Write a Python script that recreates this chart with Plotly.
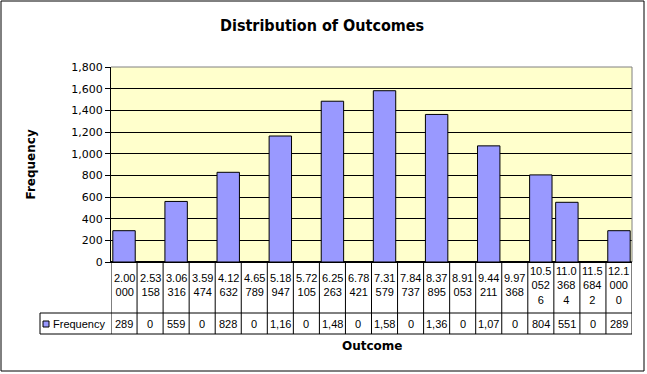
import plotly.graph_objects as go

# ---- data ----
categories = ["2.00000", "2.53158", "3.06316", "3.59474", "4.12632", "4.65789",
              "5.18947", "5.72105", "6.25263", "6.78421", "7.31579", "7.84737",
              "8.37895", "8.91053", "9.44211", "9.97368", "10.50526", "11.03684",
              "11.56842", "12.10000"]
frequency = [289, 0, 559, 0, 828, 0, 1163, 0, 1484, 0, 1581, 0, 1362, 0, 1072, 0,
             804, 551, 0, 289]
y_ticks = [0, 200, 400, 600, 800, 1000, 1200, 1400, 1600, 1800]

title_text = "Distribution of Outcomes"
x_title = "Outcome"
y_title = "Frequency"
series_name = "Frequency"

# ---- layout geometry (pixels) ----
W, H = 647, 374
L, R, T, B = 111, 632, 67, 262   # plot area edges in px
PW, PH = R - L, B - T
ROW1_BOTTOM = 313   # bottom of category row
ROW2_BOTTOM = 334   # bottom of frequency row
LEG_LEFT = 40


def px_x(px):
    return (px - L) / PW


def px_y(py):
    return (B - py) / PH


def wrap_label(s):
    parts = [s[:4]]
    rest = s[4:]
    while rest:
        parts.append(rest[:3])
        rest = rest[3:]
    return "<br>".join(parts)


def cell_value(v):
    s = f"{v:,}"
    return s[:4]


TABLE_FONT = dict(family="Liberation Sans, Arial, sans-serif", size=11, color="black")
AXIS_FONT = dict(family="DejaVu Sans, Verdana, sans-serif", size=11, color="black")
BOLD_FONT = dict(family="DejaVu Sans, Verdana, sans-serif", size=12, color="black")

fig = go.Figure()
fig.add_trace(go.Bar(
    x=categories, y=frequency, name=series_name,
    marker=dict(color="#9999FF", line=dict(color="black", width=1)),
    width=0.86, showlegend=False,
))

shapes = []
annotations = []

# plot-area gray top/right border
shapes.append(dict(type="line", xref="paper", yref="paper", x0=0, x1=1, y0=1, y1=1,
                   line=dict(color="#808080", width=1), layer="above"))
shapes.append(dict(type="line", xref="paper", yref="paper", x0=1, x1=1, y0=0, y1=1,
                   line=dict(color="#808080", width=1), layer="above"))

n = len(categories)
# data table vertical lines
for i in range(n + 1):
    shapes.append(dict(type="line", xref="x", yref="paper", x0=i - 0.5, x1=i - 0.5,
                       y0=0, y1=px_y(ROW2_BOTTOM), line=dict(color="black", width=1)))
# horizontal lines
for py in (ROW1_BOTTOM, ROW2_BOTTOM):
    shapes.append(dict(type="line", xref="paper", yref="paper", x0=px_x(LEG_LEFT), x1=1,
                       y0=px_y(py), y1=px_y(py), line=dict(color="black", width=1)))
# legend cell left edge
shapes.append(dict(type="line", xref="paper", yref="paper", x0=px_x(LEG_LEFT), x1=px_x(LEG_LEFT),
                   y0=px_y(ROW1_BOTTOM), y1=px_y(ROW2_BOTTOM), line=dict(color="black", width=1)))
# legend swatch
shapes.append(dict(type="rect", xref="paper", yref="paper",
                   x0=px_x(43), x1=px_x(49), y0=px_y(327), y1=px_y(321),
                   fillcolor="#9999FF", line=dict(color="black", width=1)))
annotations.append(dict(xref="paper", yref="paper", x=px_x(51), y=px_y(324),
                        text=series_name, showarrow=False, xanchor="left", yanchor="middle",
                        font=TABLE_FONT))

# outer chart border
shapes.append(dict(type="rect", xref="paper", yref="paper",
                   x0=px_x(1), x1=px_x(644), y0=px_y(371), y1=px_y(1),
                   line=dict(color="black", width=1), fillcolor="rgba(0,0,0,0)"))

row1_mid = 285
row2_mid = (ROW1_BOTTOM + ROW2_BOTTOM) / 2
for i, (c, v) in enumerate(zip(categories, frequency)):
    annotations.append(dict(xref="x", yref="paper", x=i, y=px_y(row1_mid),
                            text=wrap_label(c), showarrow=False, xanchor="center",
                            yanchor="middle", font=TABLE_FONT))
    annotations.append(dict(xref="x", yref="paper", x=i, y=px_y(row2_mid),
                            text=cell_value(v), showarrow=False, xanchor="center",
                            yanchor="middle", font=TABLE_FONT))

# titles
annotations.append(dict(xref="paper", yref="paper", x=px_x(322), y=px_y(25),
                        text="<b>" + title_text + "</b>", showarrow=False,
                        xanchor="center", yanchor="middle",
                        font=dict(family="DejaVu Sans Condensed, DejaVu Sans, sans-serif",
                                  size=16, color="black")))
annotations.append(dict(xref="paper", yref="paper", x=0.5, y=px_y(346),
                        text="<b>" + x_title + "</b>", showarrow=False,
                        xanchor="center", yanchor="middle", font=BOLD_FONT))
annotations.append(dict(xref="paper", yref="paper", x=px_x(30), y=0.5,
                        text="<b>" + y_title + "</b>", showarrow=False, textangle=-90,
                        xanchor="center", yanchor="middle", font=BOLD_FONT))

fig.update_layout(
    width=W, height=H,
    margin=dict(l=L, r=W - R, t=T, b=H - B, pad=0),
    paper_bgcolor="white", plot_bgcolor="#FFFFCC",
    shapes=shapes, annotations=annotations,
    bargap=0.14,
    xaxis=dict(type="category", showticklabels=False, ticks="", showgrid=False,
               showline=True, linecolor="black", linewidth=1, range=[-0.5, n - 0.5],
               fixedrange=True),
    yaxis=dict(range=[0, 1800], tickvals=y_ticks, tickformat=",", ticks="outside",
               ticklen=5, tickcolor="black", showline=True, linecolor="black", linewidth=1,
               showgrid=True, gridcolor="black", gridwidth=1, zeroline=True,
               zerolinecolor="black", tickfont=AXIS_FONT, fixedrange=True),
    font=dict(family="Liberation Sans, Arial, sans-serif"),
)

fig.write_html("out.html", config={"displayModeBar": False},
               post_script="document.body.style.margin='0';document.body.style.overflow='hidden';")
